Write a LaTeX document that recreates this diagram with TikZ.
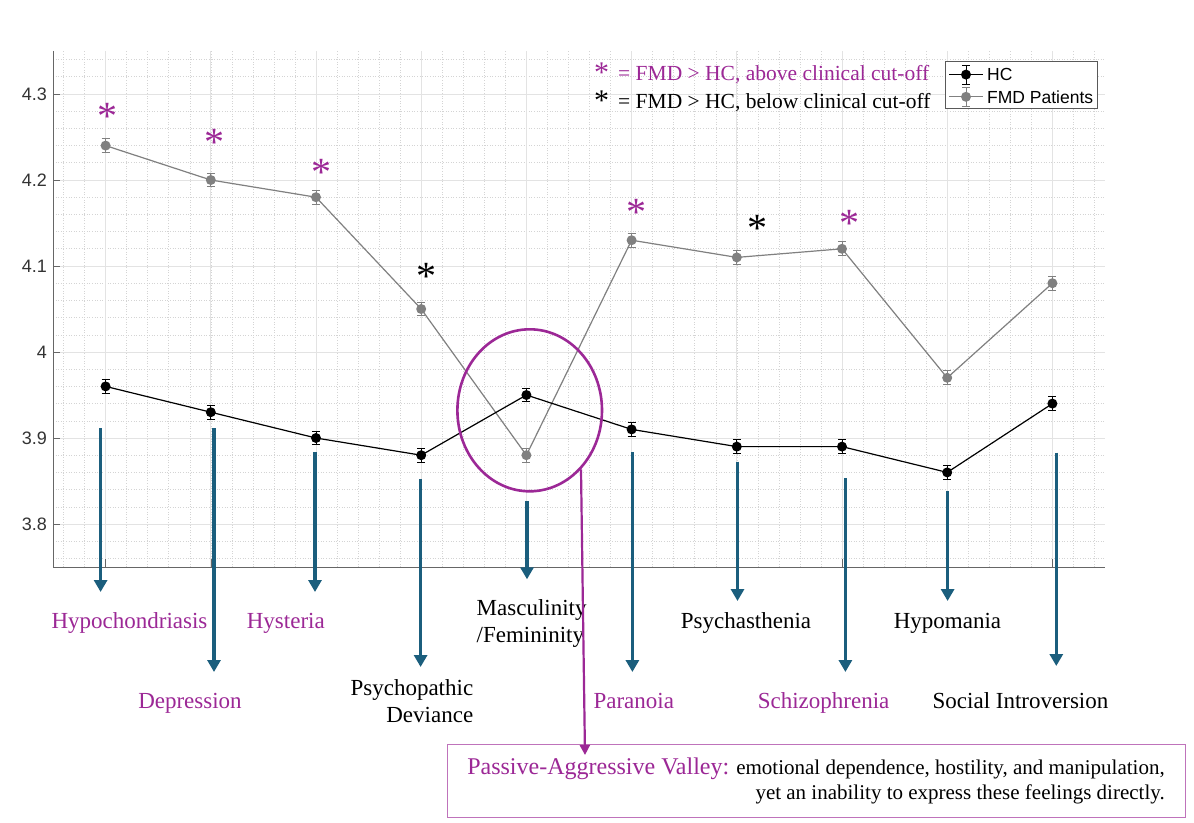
\documentclass[tikz,border=0pt]{standalone}
\usepackage{fontspec}
\setmainfont{Liberation Serif}
\newfontfamily\axisfont{Liberation Sans}
\usetikzlibrary{arrows.meta,shapes.geometric}
\definecolor{vpurple}{RGB}{156,40,150}
\definecolor{scaleblue}{RGB}{27,94,125}
\definecolor{fmdgray}{RGB}{128,128,128}

\begin{document}
\begin{tikzpicture}[x=1pt,y=-1pt,
  majorgrid/.style={draw=black!11,line width=0.8pt},
  minorgrid/.style={draw=black!17,line width=0.5pt,dash pattern=on 0.8pt off 1.8pt},
  axisline/.style={draw=black!60,line width=1pt},
  ticklab/.style={font=\axisfont\fontsize{18}{18}\selectfont,text=black!80,anchor=east,inner sep=0pt},
  hcline/.style={black,line width=1.2pt},
  fmdline/.style={fmdgray,line width=1.2pt},
  scalearrow/.style={scaleblue,line width=3.3pt,-{Triangle[width=13pt,length=12pt]}},
  scalelab/.style={font=\fontsize{23}{27.5}\selectfont,inner sep=0pt},
  sigstar/.style={font=\fontsize{40}{40}\selectfont,anchor=base,inner sep=0pt}]
\fill[white] (0,0) rectangle (1194,822);
\useasboundingbox (0,0) rectangle (1194,822);

% plot area, data units
\begin{scope}[shift={(0.4,352)},x=105.2pt,y=860pt]
  \foreach \v in {-0.24,-0.22,...,0.35}
    \draw[minorgrid] (0.5,\v) -- (10.5,\v);
  \foreach \i in {0.6,0.8,...,10.45}
    \draw[minorgrid] (\i,-0.25) -- (\i,0.35);
  \foreach \v in {-0.2,-0.1,0,0.1,0.2,0.3}
    \draw[majorgrid] (0.5,\v) -- (10.5,\v);
  \foreach \i in {1,...,10}
    \draw[majorgrid] (\i,-0.25) -- (\i,0.35);
  \draw[axisline] (0.5,0.35) -- (0.5,-0.25) -- (10.5,-0.25);
  \foreach \i in {1,...,10}
    \draw[axisline,line width=0.6pt] (\i,-0.25) -- ++(0,8pt);
  \foreach \v/\t [count=\k] in {0.3/4.3,0.2/4.2,0.1/4.1,0/4,-0.1/3.9,-0.2/3.8}{
    \draw[axisline,line width=0.6pt] (0.5,\v) -- ++(7pt,0);
    \node[ticklab] (tk\k) at ([xshift=-6pt]0.5,\v) {\t};
  }
  % group means
  \foreach \i/\h/\f in {1/3.96/4.24,2/3.93/4.20,3/3.90/4.18,4/3.88/4.05,5/3.95/3.88,
                        6/3.91/4.13,7/3.89/4.11,8/3.89/4.12,9/3.86/3.97,10/3.94/4.08}{
    \coordinate (hc\i) at (\i,{\h-4});
    \coordinate (fmd\i) at (\i,{\f-4});
  }
  \draw[fmdline] (fmd1) \foreach \i in {2,...,10}{ -- (fmd\i)};
  \draw[hcline] (hc1) \foreach \i in {2,...,10}{ -- (hc\i)};
  \foreach \i in {1,...,10}{
    \draw[fmdgray,line width=1pt] (fmd\i) ++(0,-0.008) -- ++(0,0.016)
      (fmd\i) ++(-4pt,-0.008) -- ++(8pt,0) (fmd\i) ++(-4pt,0.008) -- ++(8pt,0);
    \fill[fmdgray] (fmd\i) circle (5pt);
    \draw[black,line width=1pt] (hc\i) ++(0,-0.008) -- ++(0,0.016)
      (hc\i) ++(-4pt,-0.008) -- ++(8pt,0) (hc\i) ++(-4pt,0.008) -- ++(8pt,0);
    \fill[black] (hc\i) circle (5pt);
  }
\end{scope}

% significance marks
\foreach \x/\y/\c [count=\k] in {107.3/110/vpurple,214.3/135.7/vpurple,321/165.7/vpurple,
    426/270/black,636.7/206/vpurple,757.7/221.7/black,849.3/216.7/vpurple}
  \node[sigstar,text=\c] (sig\k) at (\x,\y+19.5) {*};

% key for the marks
\node[sigstar,font=\fontsize{30}{30}\selectfont,text=vpurple] (keyA) at (601.7,82.5) {*};
\node[font=\fontsize{21.5}{21.5}\selectfont,text=vpurple,anchor=base west,inner sep=0pt] (keyAt) at (618,80.7) {= FMD > HC, above clinical cut-off};
\node[sigstar,font=\fontsize{30}{30}\selectfont] (keyB) at (601.6,110.2) {*};
\node[font=\fontsize{21.5}{21.5}\selectfont,anchor=base west,inner sep=0pt] (keyBt) at (618,108.5) {= FMD > HC, below clinical cut-off};

% legend
\node[draw=black!65,fill=white,line width=0.8pt,minimum width=152.3pt,minimum height=46.5pt,inner sep=0pt] (legbox) at (1021.2,84.7) {};
\draw[hcline] (949,74.6) -- (983,74.6);
\draw[black,line width=1pt] (966,65) -- (966,84) (962,65) -- (970,65) (962,84) -- (970,84);
\fill[black] (966,74.6) circle (5pt);
\draw[fmdline] (949,96.8) -- (983,96.8);
\draw[fmdgray,line width=1pt] (966,87.5) -- (966,106) (962,87.5) -- (970,87.5) (962,106) -- (970,106);
\fill[fmdgray] (966,96.8) circle (5pt);
\node[font=\axisfont\fontsize{17.5}{17.5}\selectfont,anchor=west,inner sep=0pt] (leghc) at (987,74.6) {HC};
\node[font=\axisfont\fontsize{17.5}{17.5}\selectfont,anchor=west,inner sep=0pt] (legfmd) at (987,96.8) {FMD Patients};

% scale arrows
\foreach \x/\s/\e [count=\k] in {100.6/428.3/592,214/428.3/672,315/452.3/592,420.6/479.3/667,
    527/501.3/579.3,632.4/452.3/672,737.5/461.7/601,845.4/478.3/672,947.6/491.4/601,1056.3/452.5/666}{
  \coordinate (as\k) at (\x,\s);
  \coordinate (ae\k) at (\x,\e);
  \draw[scalearrow] (as\k) -- (ae\k);
}

% scale names
\node[scalelab,text=vpurple,anchor=base] (lab1) at (129.5,628) {Hypochondriasis};
\node[scalelab,text=vpurple,anchor=base] (lab2) at (190,708) {Depression};
\node[scalelab,text=vpurple,anchor=base] (lab3) at (285.8,628) {Hysteria};
\node[scalelab,align=right,anchor=north east] (lab4) at (473.4,679.3) {Psychopathic\\Deviance};
\node[scalelab,align=left,anchor=north west] (lab5) at (476.5,599.3) {Masculinity\\/Femininity};
\node[scalelab,text=vpurple,anchor=base] (lab6) at (633.8,708) {Paranoia};
\node[scalelab,anchor=base] (lab7) at (746,628) {Psychasthenia};
\node[scalelab,text=vpurple,anchor=base] (lab8) at (823.6,708) {Schizophrenia};
\node[scalelab,anchor=base] (lab9) at (947.5,628) {Hypomania};
\node[scalelab,anchor=base] (lab10) at (1020.5,708) {Social Introversion};

% valley
\node[ellipse,draw=vpurple,line width=2.6pt,minimum width=144.6pt,minimum height=162pt,inner sep=0pt] (valley) at (529.7,410.3) {};
\node[draw=vpurple!65,line width=1pt,minimum width=738pt,minimum height=72.3pt,inner sep=0pt,
  align=right,font=\fontsize{21}{24.5}\selectfont] (pbox) at (816,780.9)
  {{\fontsize{24}{24}\selectfont\color{vpurple}Passive-Aggressive Valley:} emotional dependence, hostility, and manipulation,\\yet an inability to express these feelings directly.};
\coordinate (vtip) at (585,755);
\draw[vpurple,line width=2.2pt,-{Triangle[width=10pt,length=10pt]}] (valley.-49) -- (vtip);
\end{tikzpicture}
\end{document}
